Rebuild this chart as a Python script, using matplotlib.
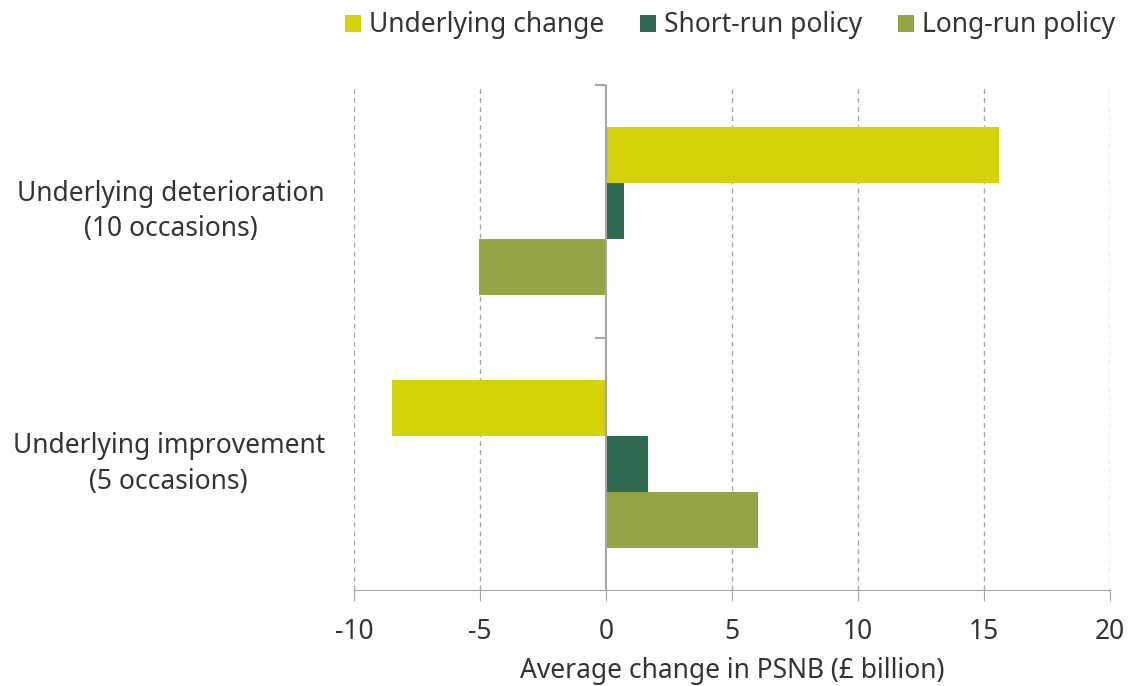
import numpy as np
import matplotlib.pyplot as plt

plt.rcParams['font.family'] = ['Noto Sans', 'DejaVu Sans']

categories = ['Underlying deterioration\n(10 occasions)', 'Underlying improvement\n(5 occasions)']
series = ['Underlying change', 'Short-run policy', 'Long-run policy']
underlying = [15.6, -8.5]
short_run = [0.7, 1.65]
long_run = [-5.05, 6.05]
colors = ['#d5d10b', '#2e6a4f', '#94a444']

fig = plt.figure(figsize=(11.29, 6.86), dpi=100)
ax = fig.add_axes([354 / 1129, 1 - 590 / 686, (1110 - 354) / 1129, (590 - 85) / 686])

y = np.arange(len(categories))
h = 0.222
for i, (name, vals) in enumerate(zip(series, [underlying, short_run, long_run])):
    ax.barh(y + (i - 1) * h, vals, height=h, color=colors[i], label=name, zorder=3)

ax.set_xlim(-10, 20)
ax.set_ylim(1.5, -0.5)
ax.set_xticks(range(-10, 25, 5))
ax.set_xticklabels([str(v) for v in range(-10, 25, 5)])
ax.tick_params(axis='x', length=8, color='#a6a6a6', labelsize=19, pad=12, labelcolor='#333333')

for v in range(-10, 25, 5):
    if v != 0:
        ax.axvline(v, color='#a6a6a6', lw=1, ls=(0, (3.5, 3)), zorder=1)
ax.axvline(0, color='#a6a6a6', lw=1.5, zorder=4)

# labels sit slightly above the group centre in the original
ax.set_yticks(y - 0.028)
ax.set_yticklabels(categories)
ax.tick_params(axis='y', length=0, pad=21, labelsize=19, labelcolor='#333333')
for lab in ax.get_yticklabels():
    lab.set_multialignment('center')
    lab.set_linespacing(1.35)

sec = ax.secondary_yaxis(1 / 3)
sec.set_yticks([-0.5, 0.5])
sec.set_yticklabels(['', ''])
sec.tick_params(axis='y', length=8, color='#a6a6a6', width=1.5)
sec.spines['left'].set_visible(False)

for s in ['top', 'right', 'left']:
    ax.spines[s].set_visible(False)
ax.spines['bottom'].set_color('#a6a6a6')

ax.set_xlabel('Average change in PSNB (£ billion)', fontsize=19, color='#333333', labelpad=8)

fig.legend(loc='upper right', bbox_to_anchor=(1.009, 1.018), ncol=3, frameon=False,
           fontsize=19, handlelength=0.62, handleheight=0.62, handletextpad=0.3,
           columnspacing=1.35, labelcolor='#333333')

fig.savefig('out.png', dpi=100)
